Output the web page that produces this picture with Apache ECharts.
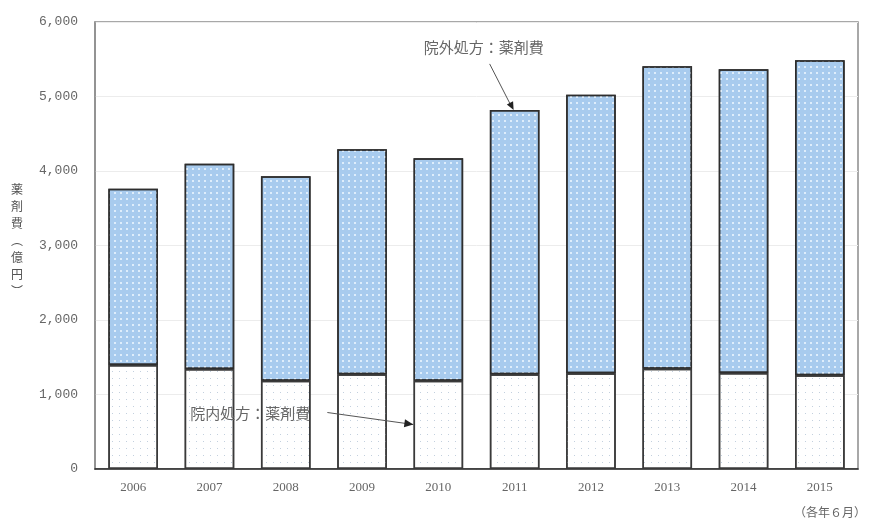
<!DOCTYPE html>
<html>
<head>
<meta charset="utf-8">
<script src="https://cdn.jsdelivr.net/npm/echarts@6/dist/echarts.min.js"></script>
<style>
html,body{margin:0;padding:0;background:#fff;}
#c{width:870px;height:525px;}
</style>
</head>
<body>
<div id="c"></div>
<script>
const years = ['2006','2007','2008','2009','2010','2011','2012','2013','2014','2015'];
const inHospital = [1396, 1342, 1185, 1271, 1185, 1271, 1284, 1346, 1289, 1260];
const outHospital = [2367, 2756, 2743, 3022, 2986, 3549, 3738, 4059, 4076, 4226];
const yTicks = [0, 1000, 2000, 3000, 4000, 5000, 6000];

const FONT = '"Noto Sans CJK JP", "DejaVu Sans", sans-serif';
const chart = echarts.init(document.getElementById('c'), null, {renderer: 'canvas'});

const option = {
  animation: false,
  backgroundColor: '#ffffff',
  grid: {left: 95, right: 12, top: 22, bottom: 56, show: true, borderColor: '#8c8c8c', borderWidth: 1.5, backgroundColor: 'transparent'},
  xAxis: {
    type: 'category',
    data: years,
    axisLine: {show: true, lineStyle: {color: '#222', width: 1.5}},
    axisTick: {show: false},
    axisLabel: {color: '#666', fontSize: 13, fontFamily: '"Liberation Serif", serif', margin: 12}
  },
  yAxis: {
    type: 'value',
    min: yTicks[0],
    max: yTicks[yTicks.length - 1],
    interval: 1000,
    axisLine: {show: true, lineStyle: {color: '#8c8c8c', width: 1.5}},
    axisTick: {show: false},
    axisLabel: {
      color: '#666', fontSize: 13, fontFamily: '"Liberation Mono", monospace', margin: 17,
      formatter: v => v.toLocaleString('en-US')
    },
    splitLine: {show: true, lineStyle: {color: '#ececec', width: 1}}
  },
  series: [
    {
      name: '院内処方：薬剤費',
      type: 'bar',
      stack: 'total',
      barWidth: '65%',
      data: inHospital,
      itemStyle: {
        color: '#ffffff',
        borderColor: '#3a3a3a',
        borderWidth: 1.5,
        decal: {symbol: 'rect', symbolSize: 1, dashArrayX: [[1, 6]], dashArrayY: [1, 6], color: '#c3d0de', rotation: 0}
      }
    },
    {
      name: '院外処方：薬剤費',
      type: 'bar',
      stack: 'total',
      barWidth: '65%',
      data: outHospital,
      itemStyle: {
        color: '#a8cbee',
        borderColor: '#2e2e2e',
        borderWidth: 1.5,
        decal: {symbol: 'rect', symbolSize: 1, dashArrayX: [[2, 4]], dashArrayY: [2, 4], color: 'rgba(240,248,255,0.75)', rotation: 0}
      }
    }
  ]
};
chart.setOption(option);

// annotations anchored to data coordinates
const p = (x, y) => chart.convertToPixel({gridIndex: 0}, [x, y]);
const barHalf = 25;
const outTip = p(5, inHospital[5] + outHospital[5]);   // top of 2011 bar
const inTip = p(4, 1000);                                // left side of 2010 bar
const outTipPt = [outTip[0] - 3, outTip[1] - 3];
const outStart = [outTip[0] - 25, outTip[1] - 46];
const inTipPt = [inTip[0] - barHalf, inTip[1] + 30];
const inStart = [inTipPt[0] - 86, inTipPt[1] - 12];

function arrowHead(from, to, len, w) {
  const dx = to[0] - from[0], dy = to[1] - from[1];
  const L = Math.sqrt(dx * dx + dy * dy);
  const ux = dx / L, uy = dy / L;
  const bx = to[0] - ux * len, by = to[1] - uy * len;
  return [[to[0], to[1]], [bx - uy * w, by + ux * w], [bx + uy * w, by - ux * w]];
}

chart.setOption({
  graphic: [
    {type: 'text', z: 100, left: 11, top: 181, style: {text: '薬\n剤\n費\n︵\n億\n円\n︶', fill: '#555', font: '12px ' + FONT, lineHeight: 17}},
    {type: 'text', z: 100, right: 4, top: 506, style: {text: '（各年６月）', fill: '#666', font: '12px ' + FONT}},
    {type: 'text', z: 100, x: outStart[0] - 66, y: outStart[1] - 24, style: {text: '院外処方：薬剤費', fill: '#666', font: '15px ' + FONT}},
    {type: 'line', z: 100, shape: {x1: outStart[0], y1: outStart[1], x2: outTipPt[0], y2: outTipPt[1]}, style: {stroke: '#555', lineWidth: 1}},
    {type: 'polygon', z: 100, shape: {points: arrowHead(outStart, [outTipPt[0] + 2, outTipPt[1] + 3], 8, 3.5)}, style: {fill: '#222'}},
    {type: 'text', z: 100, x: inStart[0] - 137, y: inStart[1] - 7, style: {text: '院内処方：薬剤費', fill: '#666', font: '15px ' + FONT}},
    {type: 'line', z: 100, shape: {x1: inStart[0], y1: inStart[1], x2: inTipPt[0], y2: inTipPt[1]}, style: {stroke: '#555', lineWidth: 1}},
    {type: 'polygon', z: 100, shape: {points: arrowHead(inStart, inTipPt, 9, 4)}, style: {fill: '#222'}}
  ]
});
</script>
</body>
</html>
